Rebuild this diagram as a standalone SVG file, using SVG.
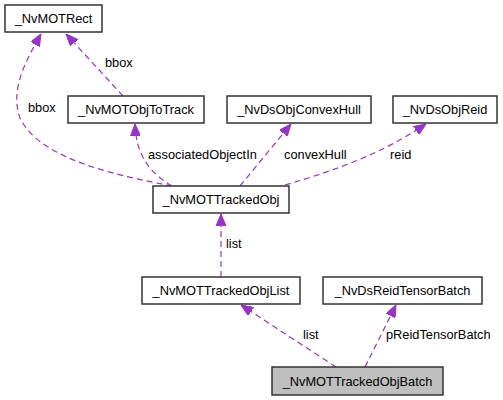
<svg xmlns="http://www.w3.org/2000/svg" width="503" height="400" viewBox="0 0 503 400">
<style>
.n rect{fill:#fff;stroke:#333;stroke-width:1.5}
.n.h rect{fill:#bfbfbf}
text{font-family:"Liberation Sans",Arial,sans-serif;font-size:12.8px;fill:#000}
.n text{text-anchor:middle}
.e path{fill:none;stroke:#9a32cd;stroke-width:1.2;stroke-dasharray:6,4}
</style>
<defs>
<marker id="a" viewBox="0 0 12 10" refX="12" refY="5" markerWidth="12" markerHeight="10" markerUnits="userSpaceOnUse" orient="auto">
<path d="M0,0 L12,5 L0,10 z" fill="#9a32cd" stroke="#9a32cd"/>
</marker>
</defs>
<rect width="503" height="400" fill="#fff"/>
<g class="e">
<path d="M172,186 C120,176 40,160 20,118 C10,90 25,62 41,34" marker-end="url(#a)"/>
<path d="M123,96 L66,34" marker-end="url(#a)"/>
<path d="M172,186 C145,170 136,150 135,124" marker-end="url(#a)"/>
<path d="M240,186 L291,124" marker-end="url(#a)"/>
<path d="M285,185 C330,172 380,155 426,124" marker-end="url(#a)"/>
<path d="M221,277 L221,214" marker-end="url(#a)"/>
<path d="M336,367 L241,305" marker-end="url(#a)"/>
<path d="M365,367 L396,305" marker-end="url(#a)"/>
</g>
<g id="labels">
<text x="28" y="112">bbox</text>
<text x="105" y="67">bbox</text>
<text x="148" y="159">associatedObjectIn</text>
<text x="284" y="159">convexHull</text>
<text x="390" y="159">reid</text>
<text x="226" y="248">list</text>
<text x="303" y="339">list</text>
<text x="386" y="339">pReidTensorBatch</text>
</g>
<g id="NvMOTRect" class="n"><rect x="5" y="5" width="97" height="27"/><text x="53.5" y="23">_NvMOTRect</text></g>
<g id="NvMOTObjToTrack" class="n"><rect x="68" y="96" width="136" height="27"/><text x="136" y="114">_NvMOTObjToTrack</text></g>
<g id="NvDsObjConvexHull" class="n"><rect x="227" y="96" width="144" height="27"/><text x="299" y="114">_NvDsObjConvexHull</text></g>
<g id="NvDsObjReid" class="n"><rect x="393" y="96" width="104" height="27"/><text x="445" y="114">_NvDsObjReid</text></g>
<g id="NvMOTTrackedObj" class="n"><rect x="153" y="186" width="136" height="27"/><text x="221" y="204">_NvMOTTrackedObj</text></g>
<g id="NvMOTTrackedObjList" class="n"><rect x="142" y="277" width="158" height="27"/><text x="221" y="295">_NvMOTTrackedObjList</text></g>
<g id="NvDsReidTensorBatch" class="n"><rect x="323" y="277" width="159" height="27"/><text x="402.5" y="295">_NvDsReidTensorBatch</text></g>
<g id="NvMOTTrackedObjBatch" class="n h"><rect x="272" y="367" width="171" height="28"/><text x="357.5" y="386">_NvMOTTrackedObjBatch</text></g>
</svg>
